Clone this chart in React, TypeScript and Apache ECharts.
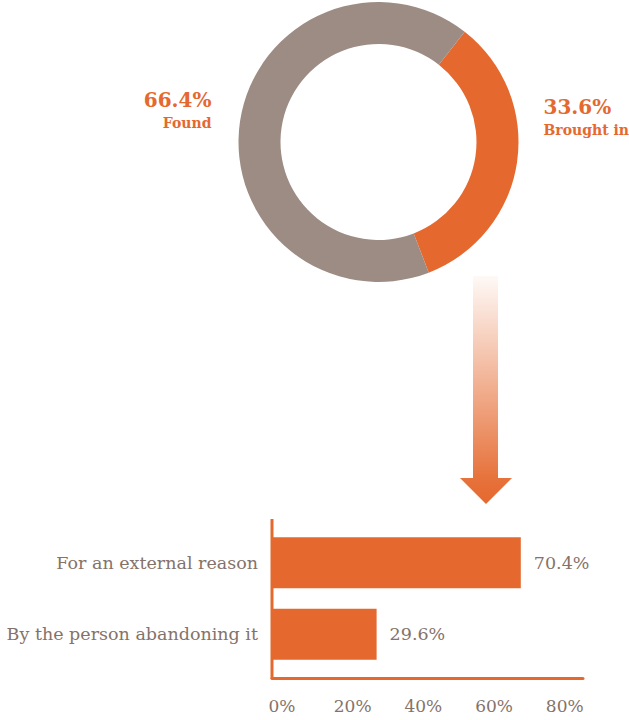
import React, { useEffect, useRef } from "react";
import * as echarts from "echarts";

// Donut data
const donutNames = ["Brought in", "Found"];
const donutValues = [33.6, 66.4];

// Bar data
const barCategories = ["For an external reason", "By the person abandoning it"];
const barValues = [70.4, 29.6];
const xTicks = [0, 20, 40, 60, 80];

const ORANGE = "#E5692F";
const GREY = "#9D8C83";
const TEXT = "#857269";
const SERIF = "'DejaVu Serif', serif";

export default function App() {
  const ref = useRef<HTMLDivElement>(null);
  useEffect(() => {
    document.body.style.margin = "0";
    const chart = echarts.init(ref.current!, null, { renderer: "svg" });
    const cx = 378.5;
    const cy = 142;
    const R = 140;
    chart.setOption({
      animation: false,
      graphic: [
        {
          type: "polygon",
          shape: {
            points: [
              [473, 276],
              [498, 276],
              [498, 478],
              [512, 478],
              [486, 504],
              [460, 478],
              [473, 478],
            ],
          },
          style: {
            fill: new echarts.graphic.LinearGradient(0, 0, 0, 1, [
              { offset: 0, color: "rgba(229,105,47,0.04)" },
              { offset: 0.9, color: "rgba(229,105,47,0.95)" },
              { offset: 1, color: ORANGE },
            ]),
          },
        },
        {
          type: "line",
          shape: { x1: 272, y1: 519, x2: 272, y2: 679 },
          style: { stroke: ORANGE, lineWidth: 3 },
          z: 10,
        },
      ],
      grid: { left: 272, top: 527, width: 311, height: 143, containLabel: false },
      xAxis: {
        type: "value",
        min: 0,
        max: 88,
        interval: 20,
        offset: 8,
        axisLine: { show: true, lineStyle: { color: ORANGE, width: 3 } },
        axisTick: { show: false },
        splitLine: { show: false },
        axisLabel: {
          showMaxLabel: false,
          margin: 19,
          color: TEXT,
          fontFamily: SERIF,
          fontSize: 17,
          padding: [0, 0, 0, 20],
          formatter: (v: number) => (xTicks.includes(v) ? v + "%" : ""),
        },
      },
      yAxis: {
        type: "category",
        inverse: true,
        data: barCategories,
        axisLine: { show: false },
        axisTick: { show: false },
        axisLabel: { color: TEXT, fontFamily: SERIF, fontSize: 17.5, margin: 14 },
      },
      series: [
        {
          type: "pie",
          center: [cx, cy],
          radius: [98, R],
          startAngle: 52,
          clockwise: true,
          silent: true,
          data: donutNames.map((n, i) => ({
            name: n,
            value: donutValues[i],
            itemStyle: { color: i === 0 ? ORANGE : GREY },
          })),
          label: {
            show: true,
            position: "outside",
            overflow: "none",
            width: 120,
            formatter: (p: any) => `{v|${p.value.toFixed(1)}%}\n{n|${p.name}}`,
            rich: {
              v: { fontFamily: SERIF, fontWeight: "bold", fontSize: 20, color: ORANGE, lineHeight: 24 },
              n: { fontFamily: SERIF, fontWeight: "bold", fontSize: 14, color: ORANGE, lineHeight: 22 },
            },
          },
          labelLine: { show: false },
          labelLayout: (p: any) =>
            p.dataIndex === 0
              ? { x: cx + R + 25, y: cy - 24, align: "left", verticalAlign: "middle" }
              : { x: cx - R - 27, y: cy - 31, align: "right", verticalAlign: "middle" },
        },
        {
          type: "bar",
          data: barValues,
          barWidth: 51,
          itemStyle: { color: ORANGE },
          label: {
            show: true,
            position: "right",
            distance: 13,
            color: TEXT,
            fontFamily: SERIF,
            fontSize: 17.5,
            formatter: (p: any) => p.value.toFixed(1) + "%",
          },
        },
      ],
    });
    return () => chart.dispose();
  }, []);
  return <div ref={ref} style={{ width: 629, height: 720 }} />;
}
